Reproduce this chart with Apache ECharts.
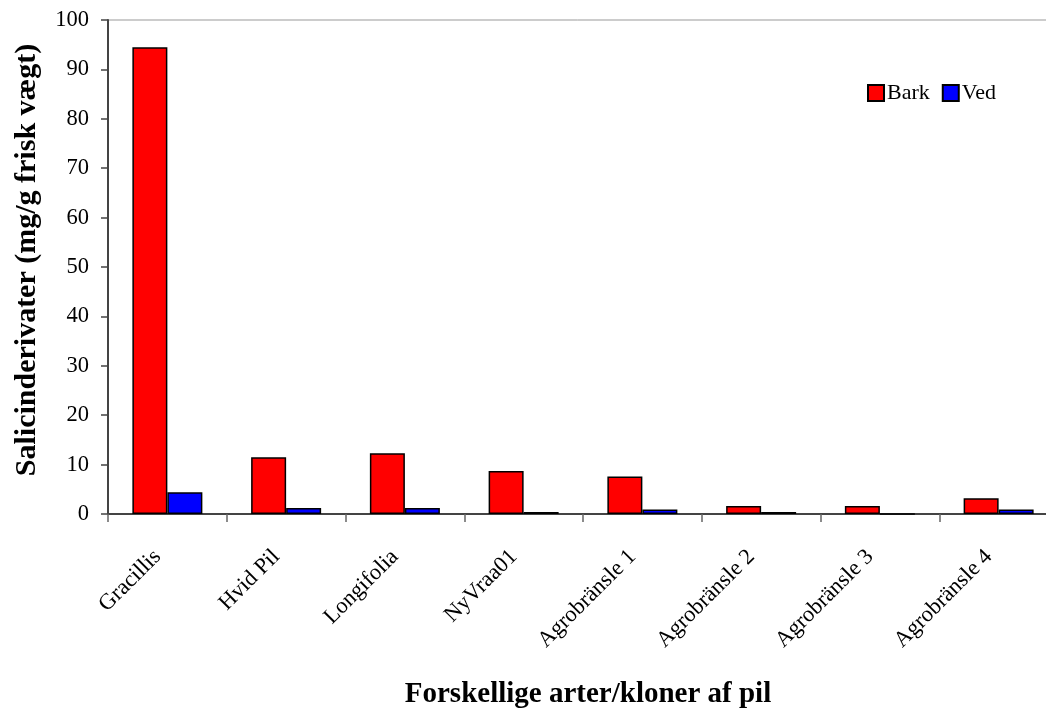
<!DOCTYPE html>
<html>
<head>
<meta charset="utf-8">
<script src="https://cdn.jsdelivr.net/npm/echarts@6/dist/echarts.min.js"></script>
<style>html,body{margin:0;padding:0;background:#fff}#c{width:1046px;height:717px}</style>
</head>
<body>
<div id="c"></div>
<script>
var categories = ["Gracillis", "Hvid Pil", "Longifolia", "NyVraa01", "Agrobränsle 1", "Agrobränsle 2", "Agrobränsle 3", "Agrobränsle 4"];
var barkValues = [94.5, 11.5, 12.3, 8.7, 7.6, 1.6, 1.6, 3.2];
var vedValues = [4.4, 1.2, 1.2, 0.4, 0.9, 0.4, 0, 0.9];
var yTicks = [0, 10, 20, 30, 40, 50, 60, 70, 80, 90, 100];

var font = "'Liberation Serif','Times New Roman',serif";
var chart = echarts.init(document.getElementById('c'));
chart.setOption({
  animation: false,
  backgroundColor: '#fff',
  grid: { left: 108, top: 20, width: 950, height: 494, outerBoundsMode: 'none', containLabel: false,
          show: true, borderColor: '#999', borderWidth: 1 },
  legend: {
    left: 867, top: 82, padding: 0, itemWidth: 16, itemHeight: 16, itemGap: 12,
    icon: 'rect',
    textStyle: { fontFamily: font, fontSize: 22, color: '#000', padding: [0, 0, 0, -2] },
    data: ['Bark', 'Ved']
  },
  xAxis: {
    type: 'category', data: categories,
    name: 'Forskellige arter/kloner af pil', nameLocation: 'middle', nameGap: 166,
    nameTextStyle: { fontFamily: font, fontSize: 29, fontWeight: 'bold', color: '#000', padding: [0, 0, 0, 10] },
    axisLine: { lineStyle: { color: '#444', width: 2 } },
    axisTick: { show: true, length: 8, lineStyle: { color: '#666', width: 1.5 } },
    axisLabel: { rotate: 45, fontFamily: font, fontSize: 22.5, color: '#000', margin: 29.5, padding: [0, 14, 0, 0] }
  },
  yAxis: {
    type: 'value', min: yTicks[0], max: yTicks[yTicks.length - 1], interval: 10,
    name: 'Salicinderivater (mg/g frisk vægt)', nameLocation: 'middle', nameGap: 66,
    nameTextStyle: { fontFamily: font, fontSize: 30, fontWeight: 'bold', color: '#000', padding: [0, 0, 0, 14] },
    axisLine: { show: true, lineStyle: { color: '#444', width: 2 } },
    axisTick: { show: true, length: 7, lineStyle: { color: '#444', width: 1.5 } },
    splitLine: { show: false },
    axisLabel: { fontFamily: font, fontSize: 22.5, color: '#000', margin: 19 }
  },
  series: [
    { name: 'Bark', type: 'bar', data: barkValues, barWidth: 35, barGap: '0%',
      itemStyle: { color: '#ff0000', borderColor: '#000', borderWidth: 1.5 } },
    { name: 'Ved', type: 'bar', data: vedValues, barWidth: 35, barGap: '0%',
      itemStyle: { color: '#0000ff', borderColor: '#000', borderWidth: 1.5 } }
  ]
});
</script>
</body>
</html>
